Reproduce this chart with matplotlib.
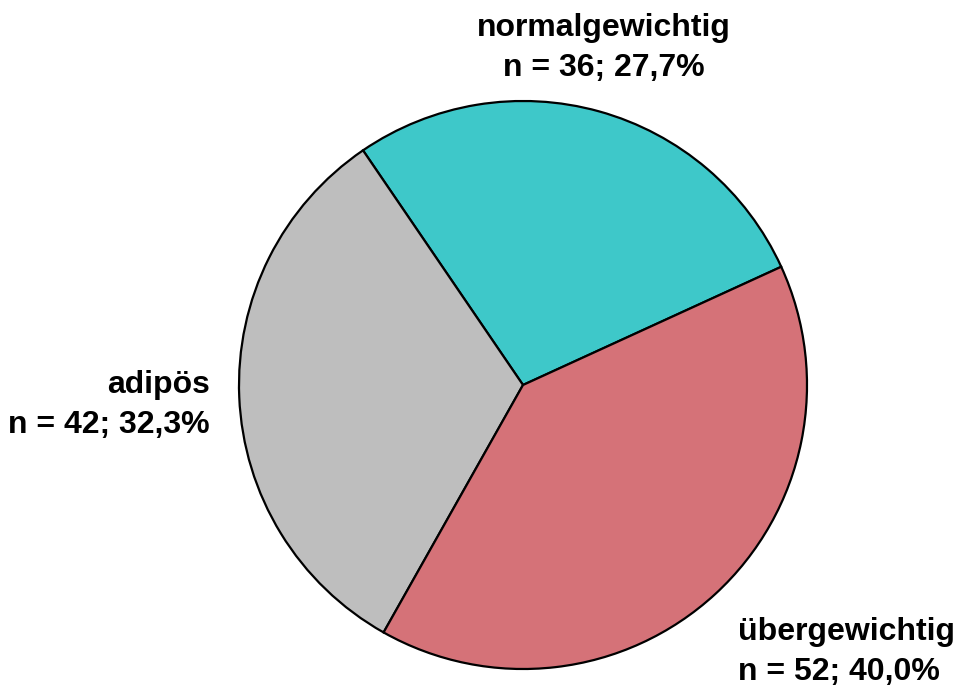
import matplotlib
matplotlib.use("Agg")
import matplotlib.pyplot as plt

# data
categories = ["normalgewichtig", "adipös", "übergewichtig"]
counts = [36, 42, 52]
percents = ["27,7%", "32,3%", "40,0%"]
colors = ["#3EC8C9", "#BEBEBE", "#D57278"]

plt.rcParams['font.family'] = ['Liberation Sans', 'DejaVu Sans']

fig = plt.figure(figsize=(9.56, 6.88), dpi=100)
ax = fig.add_axes([0, 0, 1, 1])
ax.set_xlim(0, 956)
ax.set_ylim(0, 688)
ax.set_aspect('equal')
ax.axis('off')

ax.pie(counts, colors=colors, startangle=24.6, counterclock=True,
       radius=284, center=(523, 303),
       wedgeprops=dict(edgecolor='black', linewidth=1.6), frame=False)
ax.set_xlim(0, 956)
ax.set_ylim(0, 688)

labels = [f"{c}\nn = {n}; {p}" for c, n, p in zip(categories, counts, percents)]
fs = 23
ls = 1.4
ax.text(604, 688 - 48, labels[0], ha='center', va='center', fontsize=fs,
        fontweight='bold', linespacing=ls)
ax.text(210, 688 - 405, labels[1], ha='right', va='center', fontsize=fs,
        fontweight='bold', linespacing=ls, multialignment='right')
ax.text(738, 688 - 652, labels[2], ha='left', va='center', fontsize=fs,
        fontweight='bold', linespacing=ls)

fig.savefig("out.png", dpi=100)
